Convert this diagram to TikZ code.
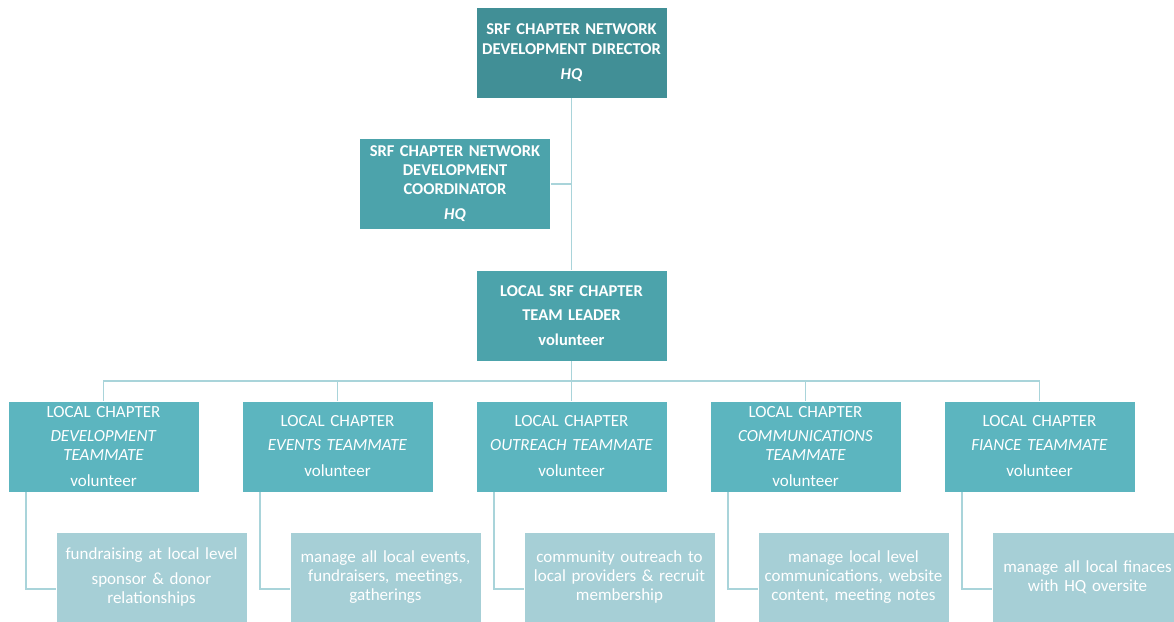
\documentclass[tikz,border=0pt]{standalone}
\usepackage{fontspec}
\setmainfont{Carlito}
\definecolor{topc}{HTML}{418F96}
\definecolor{midc}{HTML}{4CA3AB}
\definecolor{chapc}{HTML}{5CB5BF}
\definecolor{lowc}{HTML}{A6CFD6}
\definecolor{linec}{HTML}{A9D4DA}
\begin{document}
\begin{tikzpicture}[x=1pt,y=1pt,
  box/.style={rectangle, draw=white, line width=0.6pt, minimum width=191pt, minimum height=91pt, inner sep=1pt,
    text=white, align=center, text width=189pt, font=\fontsize{17}{19}\selectfont},
  topbox/.style={box, fill=topc, font=\fontsize{16.5}{19}\selectfont\bfseries},
  midbox/.style={box, fill=midc, font=\fontsize{16.5}{19}\selectfont\bfseries},
  chapbox/.style={box, fill=chapc},
  lowbox/.style={box, fill=lowc, minimum height=90pt},
  conn/.style={draw=linec, line width=1.6pt}]
\useasboundingbox (0,0) rectangle (1174,621);
\begin{scope}
\clip (0,0) rectangle (1174,621);
% top levels
\node[topbox] (dir) at (571.5,568.5) {SRF CHAPTER NETWORK\\[1pt]DEVELOPMENT DIRECTOR\\[6pt]\textit{HQ}};
\node[midbox] (coord) at (455,437) {SRF CHAPTER NETWORK\\DEVELOPMENT\\COORDINATOR\\[6pt]\textit{HQ}};
\node[midbox] (lead) at (571.5,305.5) {LOCAL SRF CHAPTER\\[5pt]TEAM LEADER\\[6pt]volunteer};
% chapter boxes
\node[chapbox] (c1) at (103.5,174.5) {LOCAL CHAPTER\\[5pt]\textit{DEVELOPMENT}\\\textit{TEAMMATE}\\[7pt]volunteer};
\node[chapbox] (c2) at (337.5,174.5) {LOCAL CHAPTER\\[5pt]\textit{EVENTS TEAMMATE}\\[7pt]volunteer};
\node[chapbox] (c3) at (571.5,174.5) {LOCAL CHAPTER\\[5pt]\textit{OUTREACH TEAMMATE}\\[7pt]volunteer};
\node[chapbox] (c4) at (805.5,174.5) {LOCAL CHAPTER\\[5pt]\textit{COMMUNICATIONS}\\\textit{TEAMMATE}\\[7pt]volunteer};
\node[chapbox] (c5) at (1039.5,174.5) {LOCAL CHAPTER\\[5pt]\textit{FIANCE TEAMMATE}\\[7pt]volunteer};
% low boxes
\node[lowbox] (l1) at (151.5,44) {fundraising at local level\\[6pt]sponsor \& donor\\relationships};
\node[lowbox] (l2) at (385.5,44) {manage all local events,\\fundraisers, meetings,\\gatherings};
\node[lowbox] (l3) at (619.5,44) {community outreach to\\local providers \& recruit\\membership};
\node[lowbox] (l4) at (853.5,44) {manage local level\\communications, website\\content, meeting notes};
\node[lowbox] (l5) at (1087.5,44) {manage all local finaces\\with HQ oversite};
% connectors
\coordinate (bus) at (571.5,240);
\draw[conn] (dir.south) -- (lead.north);
\draw[conn] (coord.east) -- (coord.east -| dir.south);
\draw[conn] (lead.south) -- (bus);
\draw[conn] (c1.north) |- (bus) -| (c5.north);
\draw[conn] (c2.north) -- (c2.north |- bus);
\draw[conn] (c3.north) -- (bus);
\draw[conn] (c4.north) -- (c4.north |- bus);
\foreach \i in {1,...,5}{
  \draw[conn] ([xshift=18pt]c\i.south west) |- (l\i.west |- 0,32);
}
\end{scope}
\end{tikzpicture}
\end{document}
